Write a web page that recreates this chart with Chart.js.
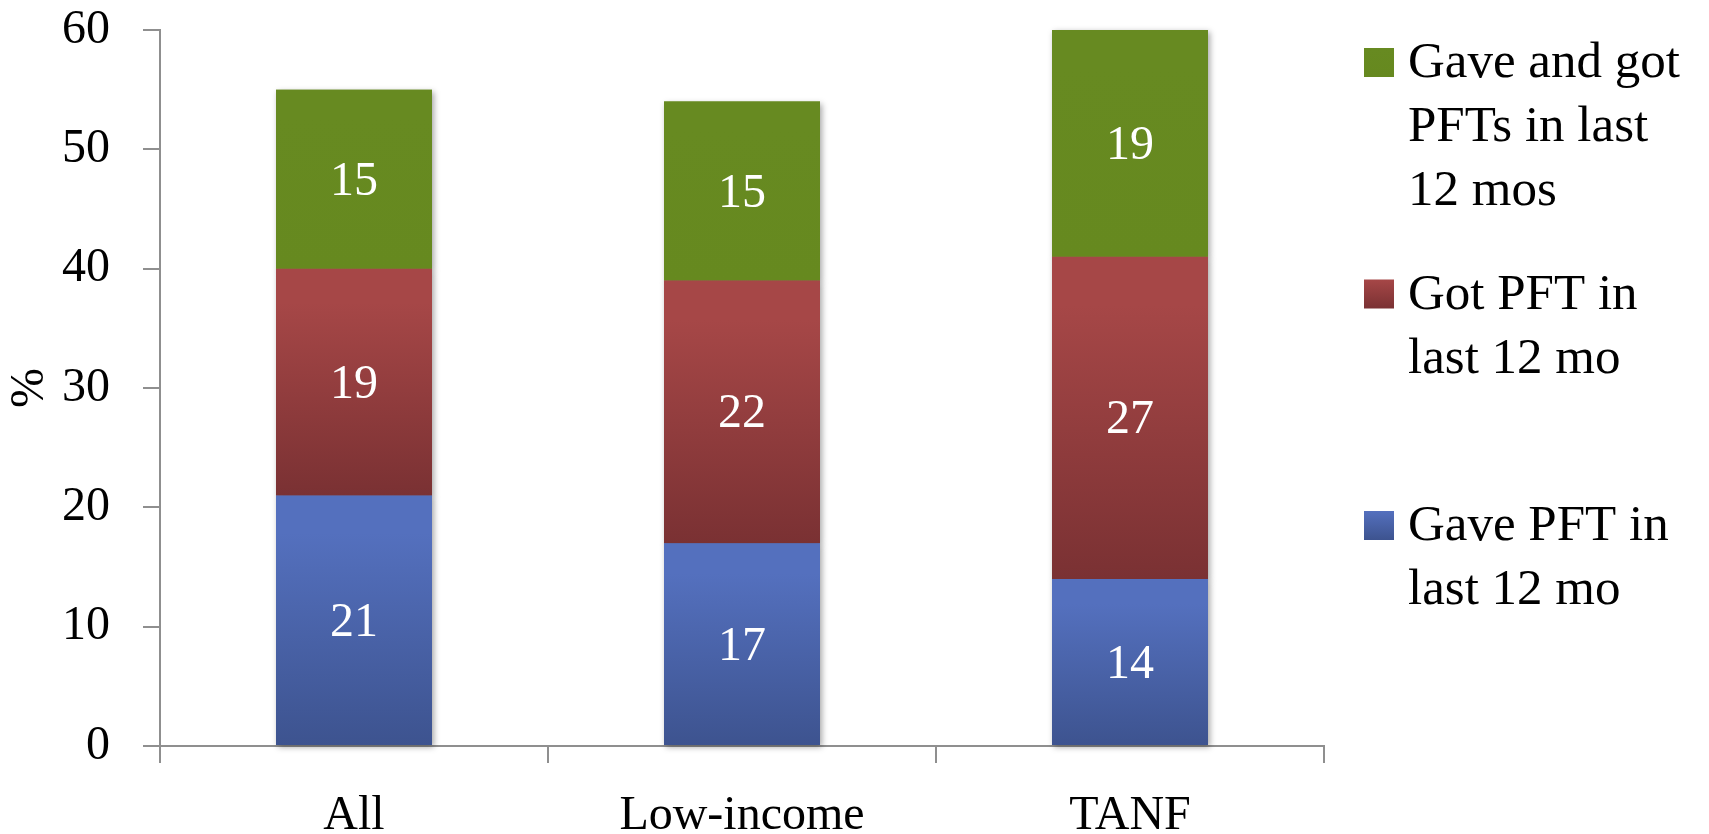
<!DOCTYPE html>
<html>
<head>
<meta charset="utf-8">
<title>PFT exchange by group</title>
<script src="https://cdn.jsdelivr.net/npm/chart.js@4.4.1/dist/chart.umd.min.js"></script>
<style>
  html, body { margin: 0; padding: 0; background: #ffffff; }
  #wrap { width: 1709px; height: 834px; }
</style>
</head>
<body>
<div id="wrap"><canvas id="chart" width="1709" height="834"></canvas></div>
<script>
// Groups along the x axis
const categories = ['All', 'Low-income', 'TANF'];

// Percent of each group, stacked bottom to top
const gavePFT = [21, 17, 14];
const gotPFT = [19, 22, 27];
const gaveAndGot = [15, 15, 19];

// Legend wording, one entry per line
const gaveLabel = ['Gave PFT in', 'last 12 mo'];
const gotLabel = ['Got PFT in', 'last 12 mo'];
const bothLabel = ['Gave and got', 'PFTs in last', '12 mos'];

const yTicks = [0, 10, 20, 30, 40, 50, 60];

const SERIF = '"Liberation Serif", "DejaVu Serif", serif';
const AXIS_GREY = '#8f8f8f';

const seriesList = [
  { label: gaveLabel, data: gavePFT, top: '#5470be', bottom: '#3d538f' },
  { label: gotLabel, data: gotPFT, top: '#a64747', bottom: '#7a3133' },
  { label: bothLabel, data: gaveAndGot, top: '#678a21', bottom: '#66891f' }
];

// Vertical gradient for one stacked segment, from its own top to bottom edge
function segmentFill(ctx) {
  const chart = ctx.chart;
  const y = chart.scales && chart.scales.y;
  const s = seriesList[ctx.datasetIndex];
  if (!y || ctx.dataIndex === undefined || !chart.chartArea) return s.top;
  let base = 0;
  for (let d = 0; d < ctx.datasetIndex; d++) base += seriesList[d].data[ctx.dataIndex];
  const end = base + s.data[ctx.dataIndex];
  const pTop = y.getPixelForValue(end);
  const pBot = y.getPixelForValue(base);
  const g = chart.ctx.createLinearGradient(0, pTop, 0, pBot);
  g.addColorStop(0, s.top);
  g.addColorStop(0.15, s.top);
  g.addColorStop(1, s.bottom);
  return g;
}

// Soft drop shadow drawn under all bars before the fills
const barShadow = {
  id: 'barShadow',
  beforeDatasetsDraw(chart) {
    const c = chart.ctx;
    c.save();
    c.shadowColor = 'rgba(0,0,0,0.35)';
    c.shadowBlur = 6;
    c.shadowOffsetX = 2;
    c.shadowOffsetY = 2;
    chart.data.datasets.forEach((ds, i) => {
      chart.getDatasetMeta(i).data.forEach(el => el.draw(c));
    });
    c.restore();
  }
};

// White value labels centred in each segment
const segmentLabels = {
  id: 'segmentLabels',
  afterDatasetsDraw(chart) {
    const c = chart.ctx;
    c.save();
    c.fillStyle = '#ffffff';
    c.font = '48px ' + SERIF;
    c.textAlign = 'center';
    c.textBaseline = 'middle';
    chart.data.datasets.forEach((ds, i) => {
      chart.getDatasetMeta(i).data.forEach((el, j) => {
        const mid = (el.y + el.base) / 2;
        c.fillText(String(ds.data[j]), el.x, mid + 3);
      });
    });
    c.restore();
  }
};

// Legend on the right: top series first, swatch beside the first line
const sideLegend = {
  id: 'sideLegend',
  afterDraw(chart) {
    const c = chart.ctx;
    const area = chart.chartArea;
    const boxX = area.right + 40;
    const textX = boxX + 44;
    const boxSize = 29;
    const lineGap = 64;
    const entryGap = 231.5;
    c.save();
    c.font = '51px ' + SERIF;
    c.fillStyle = '#000000';
    c.textAlign = 'left';
    c.textBaseline = 'alphabetic';
    const order = [2, 1, 0];
    order.forEach((idx, k) => {
      const s = seriesList[idx];
      const baseLine = area.top + 47 + k * entryGap;
      const g = c.createLinearGradient(0, baseLine - boxSize, 0, baseLine);
      g.addColorStop(0, s.top);
      g.addColorStop(1, s.bottom);
      c.fillStyle = g;
      c.fillRect(boxX, baseLine - boxSize, 30, boxSize);
      c.fillStyle = '#000000';
      s.label.forEach((line, n) => c.fillText(line, textX, baseLine + n * lineGap));
    });
    c.restore();
  }
};

const datasets = seriesList.map(s => ({
  label: s.label.join(' '),
  data: s.data,
  backgroundColor: segmentFill,
  borderWidth: 0,
  barPercentage: 0.402,
  categoryPercentage: 1.0
}));

new Chart(document.getElementById('chart'), {
  type: 'bar',
  data: { labels: categories, datasets },
  plugins: [barShadow, segmentLabels, sideLegend],
  options: {
    responsive: false,
    animation: false,
    events: [],
    layout: { padding: { top: 30, right: 385, bottom: 0, left: 0 } },
    plugins: { legend: { display: false }, tooltip: { enabled: false } },
    scales: {
      x: {
        stacked: true,
        afterFit(scale) { scale.height = 88; },
        border: { display: true, color: AXIS_GREY, width: 2 },
        grid: { offset: true, drawOnChartArea: false, drawTicks: true, tickLength: 17, color: AXIS_GREY, lineWidth: 2 },
        ticks: { color: '#000000', font: { family: SERIF, size: 48 }, padding: 25 }
      },
      y: {
        stacked: true,
        min: 0,
        max: 60,
        afterFit(scale) {
          scale.width = 160;
          scale.paddingTop = 0;
          scale.paddingBottom = 0;
        },
        afterBuildTicks(scale) { scale.ticks = yTicks.map(v => ({ value: v })); },
        border: { display: true, color: AXIS_GREY, width: 2 },
        grid: { drawOnChartArea: false, drawTicks: true, tickLength: 17, color: AXIS_GREY, lineWidth: 2 },
        ticks: { color: '#000000', font: { family: SERIF, size: 48 }, padding: 33 },
        title: { display: true, text: '%', color: '#000000', font: { family: SERIF, size: 48 }, padding: { top: 2, bottom: 0 } }
      }
    }
  }
});
</script>
</body>
</html>
